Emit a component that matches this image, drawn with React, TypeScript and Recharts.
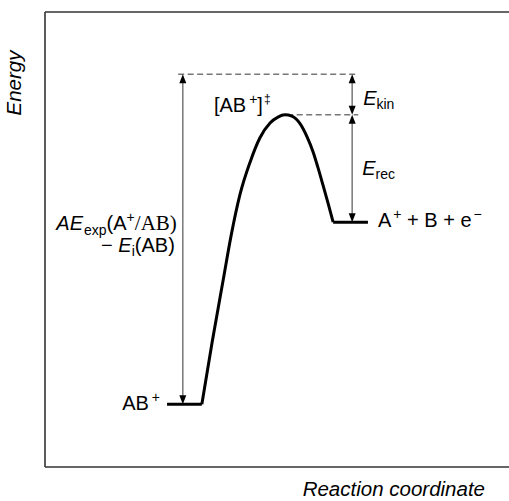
import React from 'react';
import {
  ComposedChart,
  Line,
  XAxis,
  YAxis,
  ReferenceLine,
  ReferenceDot,
  Customized,
} from 'recharts';

// Reaction coordinate and energy in arbitrary units (0–100)
const curveCoord = [33.8, 36.0, 38.4, 40.1, 42.0, 44.2, 46.3, 48.5, 50.2, 51.7, 53.2, 55.0, 56.5, 57.8, 58.8, 59.9, 61.0, 62.1];
const curveEnergy = [13.8, 27.3, 41.1, 50.8, 59.8, 67.0, 72.3, 75.6, 76.9, 77.4, 77.1, 75.4, 72.5, 69.2, 65.9, 62.0, 58.0, 53.8];

const reactantCoord = [26.3, 33.8];
const reactantEnergy = 13.8;
const productCoord = [62.1, 69.6];
const productEnergy = 53.8;
const transitionCoord = 51.7;
const transitionEnergy = 77.4;
const appearanceEnergy = 86.3;
const aeArrowCoord = 29.7;
const rightArrowCoord = 66.2;
const topDashCoord = [28.7, 67.5];
const tsDashCoord = [52.2, 67.5];
const axisDomain = [0, 100];

const curveData = curveCoord.map((x, i) => ({ x, e: curveEnergy[i] }));
const reactantData = reactantCoord.map((x) => ({ x, e: reactantEnergy }));
const productData = productCoord.map((x) => ({ x, e: productEnergy }));

const FONT = '"Liberation Sans", Arial, Helvetica, sans-serif';
const SERIF = '"Liberation Serif", "Times New Roman", serif';
const FS = 20;
const SUB = 14;

const DoubleArrow = (props: any) => {
  const { x1, y1, y2 } = props;
  const top = Math.min(y1, y2);
  const bottom = Math.max(y1, y2);
  const L = 9;
  const W = 3.5;
  return (
    <g>
      <line x1={x1} y1={top + L - 1} x2={x1} y2={bottom - L + 1} stroke="#777" strokeWidth={1.5} />
      <polygon points={`${x1},${top} ${x1 - W},${top + L} ${x1 + W},${top + L}`} fill="#000" />
      <polygon points={`${x1},${bottom} ${x1 - W},${bottom - L} ${x1 + W},${bottom - L}`} fill="#000" />
    </g>
  );
};

const txt = (dx: number, dy: number, anchor: string, children: React.ReactNode) => (p: any) => (
  <text
    x={p.cx + dx}
    y={p.cy + dy}
    textAnchor={anchor}
    fontFamily={FONT}
    fontSize={FS}
    fill="#000"
  >
    {children}
  </text>
);

const Titles = () => (
  <g fontFamily={FONT} fontSize={20.5} fontStyle="italic" fill="#000">
    <text x={21} y={83} textAnchor="middle" transform="rotate(-90 21 83)">
      Energy
    </text>
    <text x={485} y={496} textAnchor="end">
      Reaction coordinate
    </text>
  </g>
);

export default function App() {
  return (
    <div style={{ position: 'absolute', left: 0, top: 0 }}>
      <ComposedChart width={509} height={501} margin={{ top: 12, right: 0, bottom: 34, left: 45 }}>
        <XAxis type="number" dataKey="x" domain={axisDomain} hide allowDataOverflow />
        <YAxis type="number" dataKey="e" domain={axisDomain} hide allowDataOverflow />

        {/* frame: left, bottom, top */}
        <ReferenceLine x={axisDomain[0]} stroke="#333" strokeWidth={1.6} ifOverflow="visible" />
        <ReferenceLine y={axisDomain[0]} stroke="#333" strokeWidth={1.6} ifOverflow="visible" />
        <ReferenceLine y={axisDomain[1]} stroke="#333" strokeWidth={1.6} ifOverflow="visible" />

        <ReferenceLine
          segment={[{ x: topDashCoord[0], y: appearanceEnergy }, { x: topDashCoord[1], y: appearanceEnergy }]}
          stroke="#777"
          strokeWidth={1.5}
          strokeDasharray="6 3.5"
          ifOverflow="visible"
        />
        <ReferenceLine
          segment={[{ x: tsDashCoord[0], y: transitionEnergy }, { x: tsDashCoord[1], y: transitionEnergy }]}
          stroke="#777"
          strokeWidth={1.5}
          strokeDasharray="6 3.5"
          ifOverflow="visible"
        />
        <ReferenceLine
          segment={[{ x: aeArrowCoord, y: appearanceEnergy }, { x: aeArrowCoord, y: reactantEnergy }]}
          shape={DoubleArrow}
          ifOverflow="visible"
        />
        <ReferenceLine
          segment={[{ x: rightArrowCoord, y: appearanceEnergy }, { x: rightArrowCoord, y: transitionEnergy }]}
          shape={DoubleArrow}
          ifOverflow="visible"
        />
        <ReferenceLine
          segment={[{ x: rightArrowCoord, y: transitionEnergy }, { x: rightArrowCoord, y: productEnergy }]}
          shape={DoubleArrow}
          ifOverflow="visible"
        />

        <Line data={reactantData} dataKey="e" type="linear" stroke="#000" strokeWidth={3} dot={false} isAnimationActive={false} />
        <Line data={curveData} dataKey="e" type="monotone" stroke="#000" strokeWidth={3} dot={false} isAnimationActive={false} />
        <Line data={productData} dataKey="e" type="linear" stroke="#000" strokeWidth={3} dot={false} isAnimationActive={false} />

        {/* [AB+]‡ */}
        <ReferenceDot
          x={transitionCoord}
          y={transitionEnergy}
          ifOverflow="visible"
          shape={txt(-71, -3, 'start', (
            <>
              [AB
              <tspan fontSize={SUB} dx={3} dy={-8}>+</tspan>
              <tspan dy={8}>]</tspan>
              <tspan fontSize={12} dx={1} dy={-9}>‡</tspan>
            </>
          ))}
        />
        {/* E_kin */}
        <ReferenceDot
          x={rightArrowCoord}
          y={appearanceEnergy}
          ifOverflow="visible"
          shape={txt(11, 30.5, 'start', (
            <>
              <tspan fontStyle="italic">E</tspan>
              <tspan fontSize={SUB} dy={4}>kin</tspan>
            </>
          ))}
        />
        {/* E_rec */}
        <ReferenceDot
          x={rightArrowCoord}
          y={transitionEnergy}
          ifOverflow="visible"
          shape={txt(10, 60, 'start', (
            <>
              <tspan fontStyle="italic">E</tspan>
              <tspan fontSize={SUB} dy={4}>rec</tspan>
            </>
          ))}
        />
        {/* A+ + B + e- */}
        <ReferenceDot
          x={productCoord[1]}
          y={productEnergy}
          ifOverflow="visible"
          shape={txt(10, 5, 'start', (
            <>
              A
              <tspan fontSize={SUB} dx={2} dy={-8}>+</tspan>
              <tspan dy={8}> + B + e</tspan>
              <tspan fontSize={SUB} dx={2} dy={-8}>−</tspan>
            </>
          ))}
        />
        {/* AB+ */}
        <ReferenceDot
          x={reactantCoord[0]}
          y={reactantEnergy}
          ifOverflow="visible"
          shape={txt(-7, 6, 'end', (
            <>
              AB
              <tspan fontSize={SUB} dx={3} dy={-8}>+</tspan>
            </>
          ))}
        />
        {/* AE_exp(A+/AB) − E_i(AB) */}
        <ReferenceDot
          x={aeArrowCoord}
          y={productEnergy}
          ifOverflow="visible"
          shape={txt(-6, 7.5, 'end', (
            <>
              <tspan fontStyle="italic">AE</tspan>
              <tspan fontSize={SUB} dx={1} dy={5}>exp</tspan>
              <tspan dy={-5}>(A</tspan>
              <tspan fontSize={SUB} dy={-8}>+</tspan>
              <tspan fontFamily={SERIF} fontSize={21} dy={8}>/AB)</tspan>
            </>
          ))}
        />
        <ReferenceDot
          x={aeArrowCoord}
          y={productEnergy}
          ifOverflow="visible"
          shape={txt(-8, 29.5, 'end', (
            <>
              {'− '}
              <tspan fontStyle="italic">E</tspan>
              <tspan fontSize={SUB} dy={4}>i</tspan>
              <tspan dy={-4}>(AB)</tspan>
            </>
          ))}
        />

        <Customized component={Titles} />
      </ComposedChart>
    </div>
  );
}
